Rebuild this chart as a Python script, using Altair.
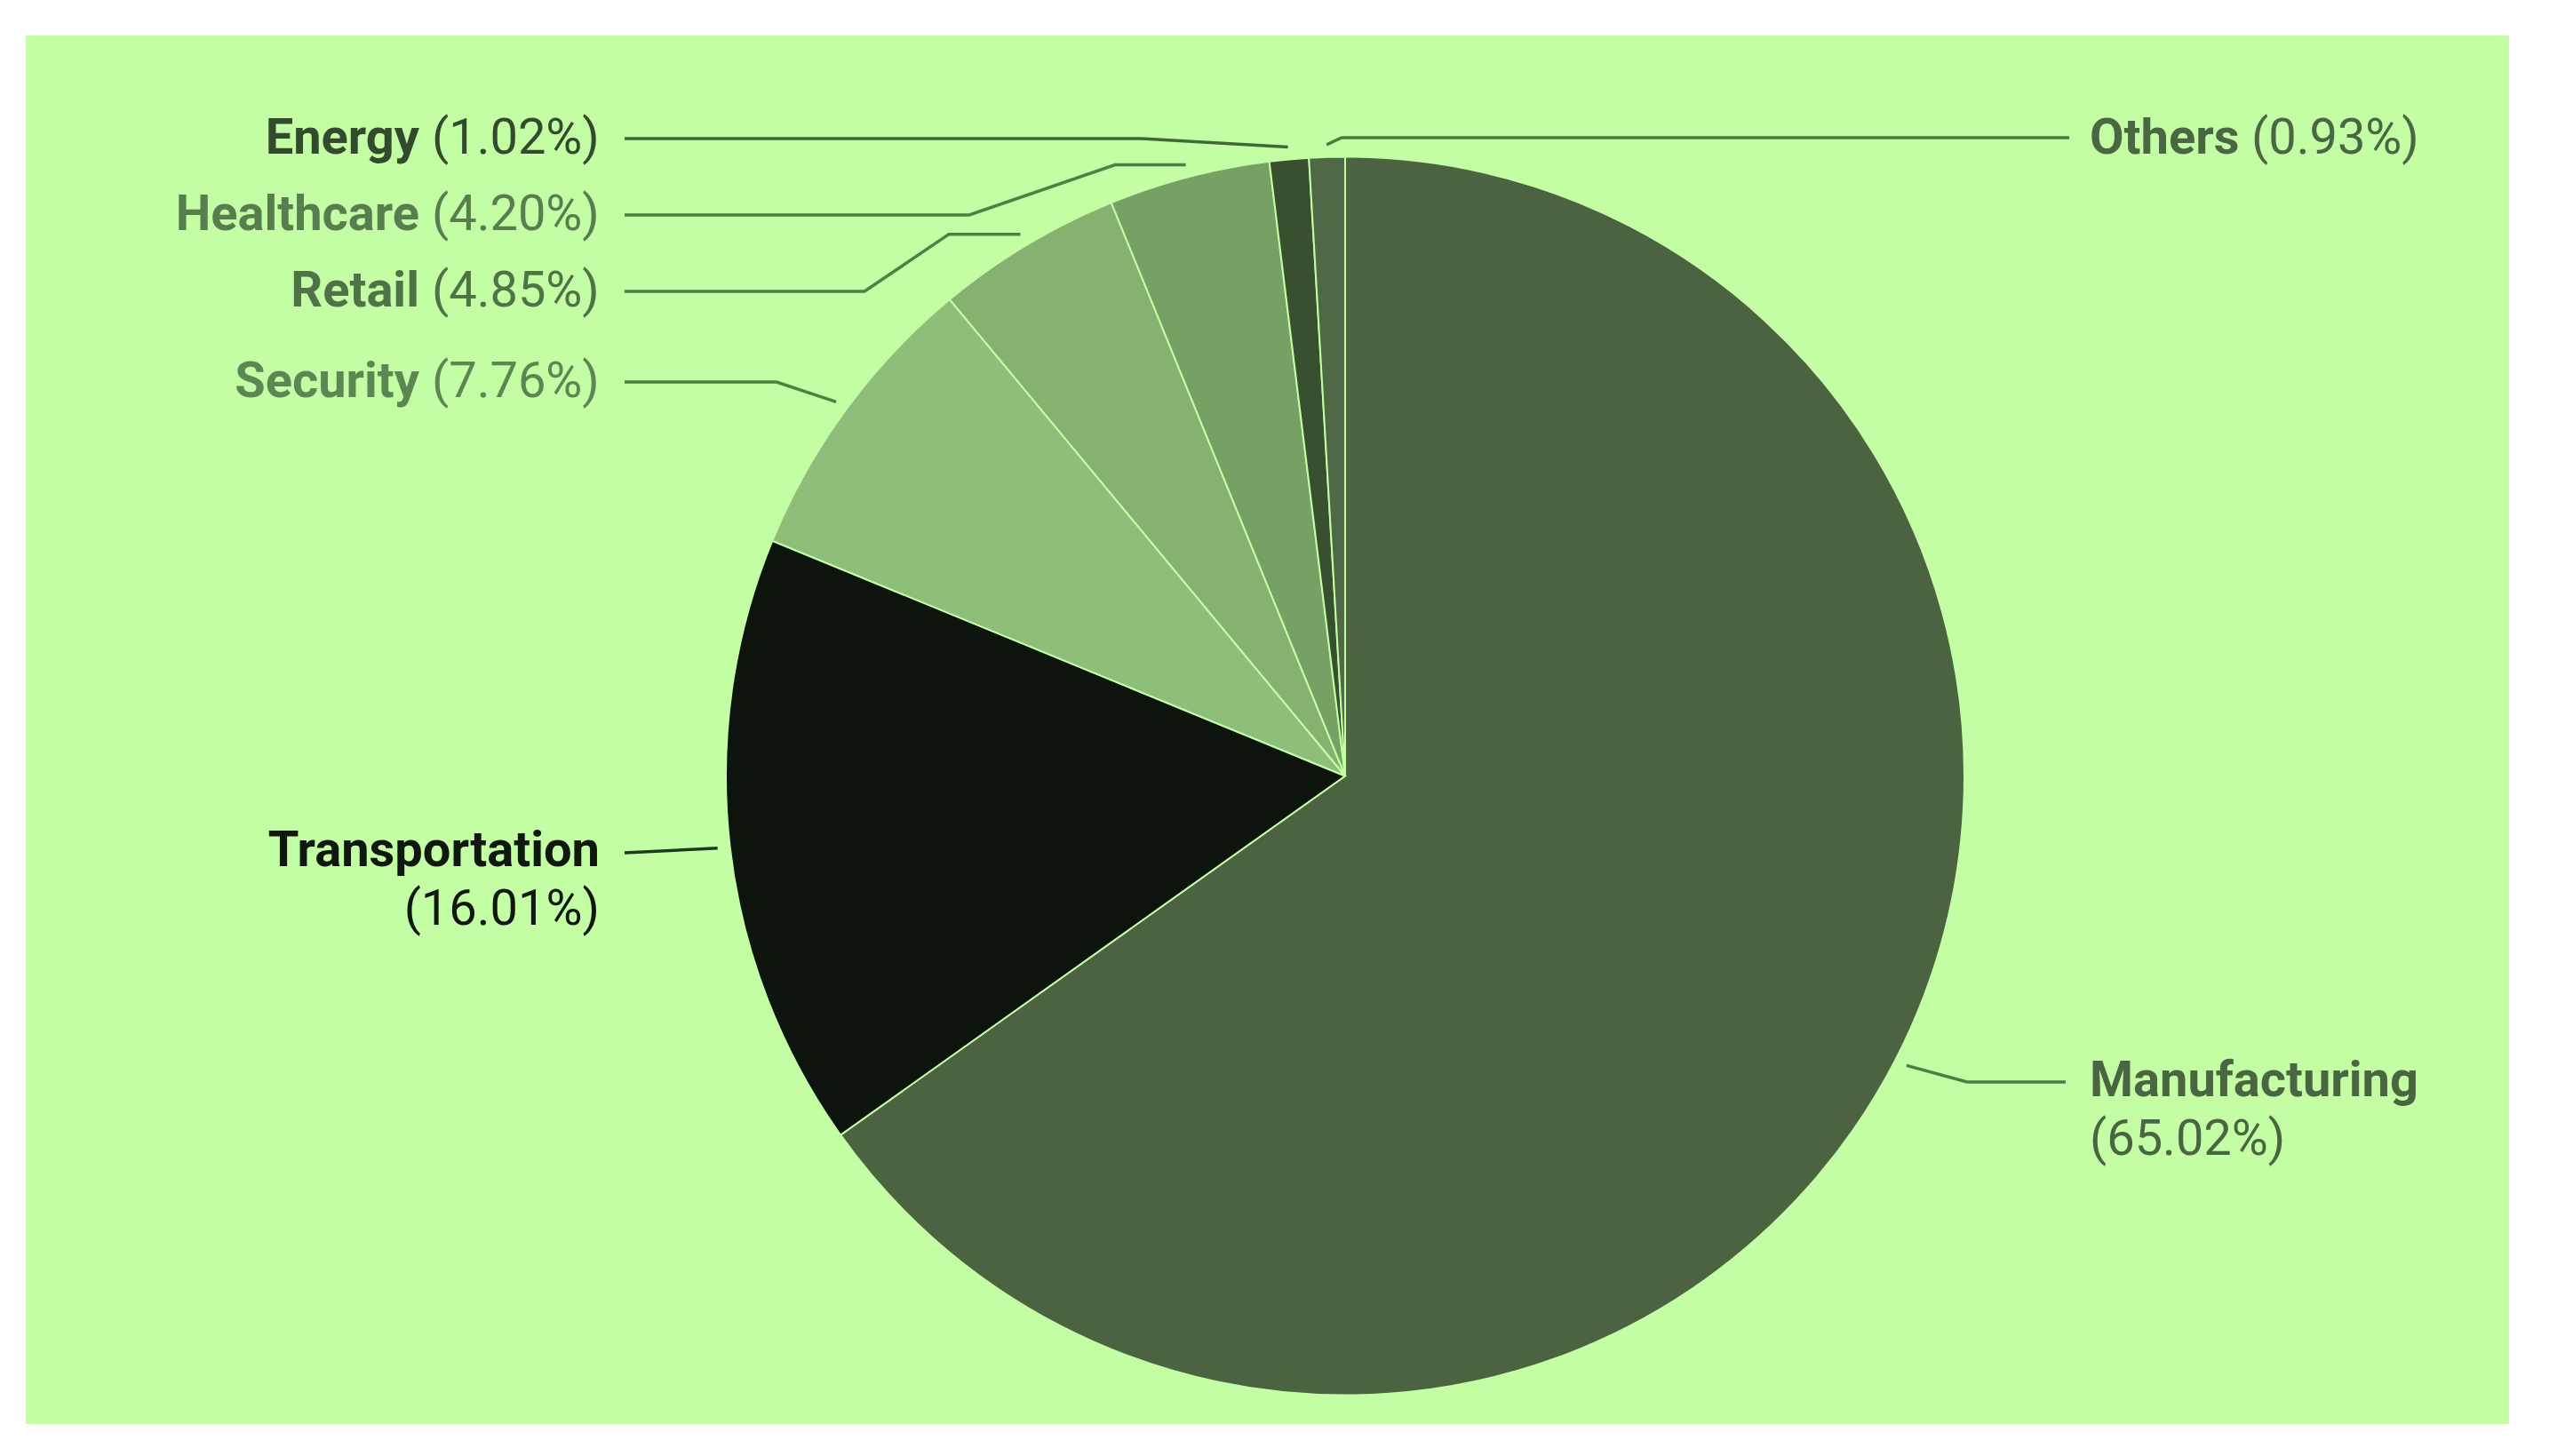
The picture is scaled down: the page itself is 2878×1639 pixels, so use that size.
import math
import altair as alt
import pandas as pd

# ---- data ----
categories = ["Manufacturing", "Transportation", "Security", "Retail", "Healthcare", "Energy", "Others"]
shares = [65.02, 16.01, 7.76, 4.85, 4.20, 1.02, 0.93]

# ---- styles ----
BG = "#c3fea5"
slice_colors = ["#4b6340", "#0d130d", "#8fbd7a", "#86b171", "#77a065", "#38502f", "#4e6944"]
label_colors = ["#4a6541", "#0f170f", "#5d8752", "#4f7347", "#587d4f", "#344a2e", "#4a6642"]
leader_colors = ["#4d7d42", "#1f3a1c", "#4e8042", "#4e8042", "#4e8042", "#3f6a37", "#4d7a42"]

# page -> view offset
OX, OY = 29, 40
CX, CY = 1514 - OX, 873.5 - OY
R = 697
FS = 56

# label layout (page coords): side, name(x,y), pct(x,y), bends of the leader line
layout = {
    "Manufacturing": dict(side="L2R", name=(2352, 1217), pct=(2352, 1283), bends=[(2214, 1218), (2325, 1218)]),
    "Transportation": dict(side="R2L", name=(675, 958), pct=(675, 1024), bends=[(703, 960)]),
    "Security": dict(side="R", name=(472, 430), pct=(486, 430), bends=[(874, 430), (703, 430)]),
    "Retail": dict(side="R", name=(472, 328), pct=(486, 328), bends=["H1068", (973, 328), (703, 328)]),
    "Healthcare": dict(side="R", name=(472, 242), pct=(486, 242), bends=["H1255", (1091, 242), (703, 242)]),
    "Energy": dict(side="R", name=(472, 156), pct=(486, 156), bends=[(1285, 156), (703, 156)]),
    "Others": dict(side="L", name=(2352, 156), pct=(2534, 156), bends=[(1510, 155), (2329, 155)]),
}

pie_df = pd.DataFrame({"category": categories, "share": shares, "idx": list(range(len(categories)))})

total = sum(shares)
line_rows, name_rows, pct_rows = [], [], []
cum = 0.0
for i, (cat, sh) in enumerate(zip(categories, shares)):
    mid = (cum + sh / 2) / total * 2 * math.pi
    cum += sh
    ax = CX + (R + 14) * math.sin(mid)
    ay = CY - (R + 14) * math.cos(mid)
    pts = [(ax, ay)]
    for b in layout[cat]["bends"]:
        if isinstance(b, str):
            pts.append((float(b[1:]) - OX, ay))
        else:
            pts.append((b[0] - OX, b[1] - OY))
    for k, (px, py) in enumerate(pts):
        line_rows.append({"category": cat, "k": k, "x": px, "y": py, "c": leader_colors[i]})
    side = layout[cat]["side"]
    nx, ny = layout[cat]["name"]
    qx, qy = layout[cat]["pct"]
    name_align = "right" if side in ("R", "R2L") else "left"
    pct_align = "left" if side in ("R", "L", "L2R") else "right"
    name_rows.append({"t": cat, "x": nx - OX, "y": ny - OY, "c": label_colors[i], "a": name_align})
    pct_rows.append({"t": f"({sh:.2f}%)", "x": qx - OX, "y": qy - OY, "c": label_colors[i], "a": pct_align})

lines_df = pd.DataFrame(line_rows)
names_df = pd.DataFrame(name_rows)
pcts_df = pd.DataFrame(pct_rows)

pie = alt.Chart(pie_df).mark_arc(radius=R, stroke=BG, strokeWidth=2).encode(
    theta=alt.Theta("share:Q", stack=True),
    order=alt.Order("idx:Q"),
    color=alt.Color("category:N", scale=alt.Scale(domain=categories, range=slice_colors), legend=None),
    x=alt.value(CX),
    y=alt.value(CY),
)

leaders = alt.Chart(lines_df).mark_line(strokeWidth=3.5).encode(
    x=alt.X("x:Q", scale=None),
    y=alt.Y("y:Q", scale=None),
    detail="category:N",
    order="k:Q",
    color=alt.Color("c:N", scale=None),
)

def text_layer(df, align, weight):
    sub = df[df["a"] == align]
    return alt.Chart(sub).mark_text(
        align=align, baseline="middle", font="Roboto", fontSize=FS, fontWeight=weight
    ).encode(
        x=alt.X("x:Q", scale=None),
        y=alt.Y("y:Q", scale=None),
        text="t:N",
        color=alt.Color("c:N", scale=None),
    )

layers = [pie, leaders,
          text_layer(names_df, "right", "bold"), text_layer(names_df, "left", "bold"),
          text_layer(pcts_df, "right", "normal"), text_layer(pcts_df, "left", "normal")]

chart = alt.layer(*layers).properties(
    width=2795, height=1563,
    padding={"left": 21, "top": 32, "right": 0, "bottom": 0},
    background="white",
).configure_view(fill=BG, stroke=None)

chart.save("out.html", embed_options={"renderer": "svg", "actions": False})
